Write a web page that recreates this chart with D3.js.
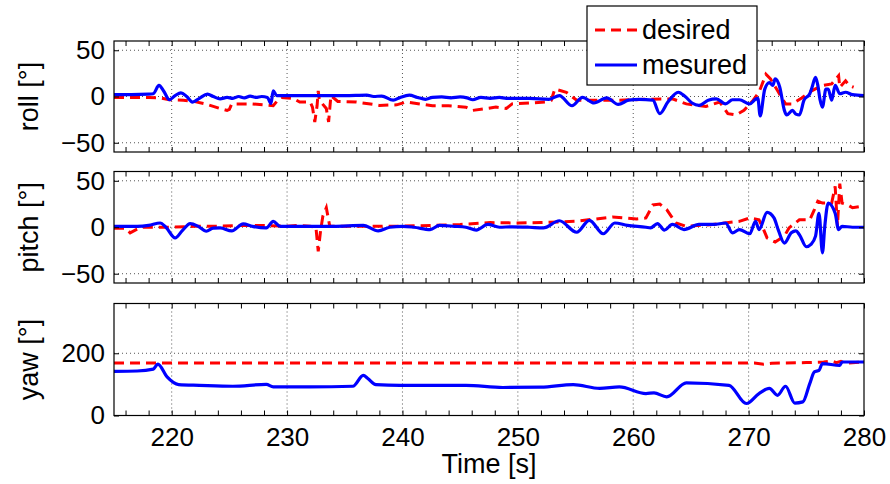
<!DOCTYPE html>
<html><head><meta charset="utf-8">
<script src="https://cdn.jsdelivr.net/npm/d3@7"></script>
<style>
body{margin:0;background:#fff;}
text{font-family:"Liberation Sans",Arial,Helvetica,sans-serif;fill:#000;}
</style></head><body>
<svg id="c" width="890" height="484"></svg>
<script>
// ---- data (time [s], angle [deg]) ----
const xTicks = [220,230,240,250,260,270,280];
const xMinorTicks = [216,218,220,222,224,226,228,230,232,234,236,238,240,242,244,246,248,250,252,254,256,258,260,262,264,266,268,270,272,274,276,278,280];
const angleTicks = [-50,0,50];
const yawTicks = [0,200];
const panelLabels = ["roll [°]","pitch [°]","yaw [°]"];
const legendLabels = ["desired","mesured"];

const rollDesired = [[215,-1],[218,-1],[219,-1.5],[219.8,-3.5],[221,-4],[221.8,-5],[222.9,-8],[224.2,-13],[224.8,-15],[225,-14],[225.2,-8],[227,-8],[228,-9],[228.8,-10],[229.2,-4],[229.5,-1],[230.5,-2],[231.1,-6],[232,-6],[232.2,-11.5],[232.4,-27.5],[232.6,-10],[232.7,6],[232.8,-4],[233.4,-13],[233.6,-27.5],[233.8,1],[234.4,-5.4],[236,-6],[237.7,-9],[238,-9.6],[239.5,-9],[240.3,-6],[241.5,-8],[242.6,-10],[244,-10],[245.5,-11.5],[246.1,-15],[248.1,-11.5],[249,-13],[249.5,-8],[251,-7],[252.4,-6],[252.9,-4],[253.2,8],[254.2,4.6],[255.1,-4],[258.8,-4],[261.1,-3],[263.4,-2.5],[264.6,-8],[266.3,-10.7],[267.5,-6],[268.2,-18.5],[268.9,-20],[269.6,-15],[270.4,-4],[270.9,4.6],[271.5,24],[271.9,19],[272.5,6.4],[273.2,-8],[273.8,-8],[274.6,-1.5],[275.5,6.4],[276.4,12],[277.2,13.6],[277.8,22.5],[277.9,10],[278.4,17],[278.7,12],[279.1,10]];
const rollMeasured = [[215,2],[216.5,2],[218,2.5],[218.4,3],[218.9,12],[219.3,6],[219.8,-3.5],[220.3,1],[220.8,4],[221.3,0],[221.8,-6],[222.4,-2],[223.1,2.5],[223.6,0],[224.2,-2.5],[224.8,-1],[225.3,-2],[225.8,0],[226.3,-1.5],[226.8,0.5],[227.3,-1],[227.8,0],[228.3,-1],[228.6,-7.5],[228.8,6],[229.1,1],[229.4,1],[231,1],[233,1],[235,1],[236.9,1.5],[237.5,0],[238.2,0.5],[239.2,-4],[239.8,-1],[240.6,1.5],[241.3,-1],[242,-3],[242.6,-1],[243.4,-0.5],[244.2,-1.5],[245,-0.5],[245.6,-1.5],[246.1,-3.5],[246.8,-1],[247.6,-2],[248.4,-1],[249,-2],[250,-2],[251,-2],[252.7,-3],[253.6,1],[254.7,-10],[255.6,-1],[256.6,-7],[257.7,-1.5],[258.7,-8.5],[259.6,-4],[260.5,-3],[261.7,-4],[262.3,-18.5],[263,-6],[263.9,4.6],[264.5,0],[265.1,-7],[265.7,-9.6],[266.5,-4],[267.2,-2.5],[268,-8],[268.6,-3.5],[269.2,-3.5],[270.1,-8],[270.6,-3],[270.8,-2],[271,-21],[271.4,8],[271.8,15],[272.1,12],[272.3,19],[272.7,10],[273.1,-15],[273.3,-20],[273.8,-15],[274.1,-19],[274.4,-20],[274.8,-4],[275.3,3],[275.5,10],[275.8,20.7],[276,12],[276.2,-4],[276.4,-11.5],[276.7,8],[276.9,8],[277.2,-4],[277.5,12],[277.9,3],[278.4,4.6],[279,2],[280,1]];

const pitchDesired = [[215,-1],[216,-1],[216.4,-6],[217,-2],[217.5,0],[220,0],[222,1],[224,1],[226,2],[228,2],[230,1],[231,2],[232,1],[232.5,0],[232.7,-26],[232.9,-4],[233.1,12],[233.4,21],[233.7,1],[236,1],[238.9,1],[242.6,2],[245,3],[247.6,5],[250,4.6],[252,5],[255,6.4],[258.2,11],[260.3,9],[261.1,10],[261.7,24],[262.3,25],[262.9,19],[263.7,4.6],[264.6,1],[266.9,3],[269.2,6.4],[270.1,10],[270.9,8],[271.3,-2.5],[271.6,-11.5],[272.3,-16],[273.1,-9.6],[273.5,-0.7],[274.4,8],[275.3,8],[275.7,19],[276,28],[276.4,26],[277.2,26],[277.5,44],[277.7,1],[277.9,47],[278.1,26],[278.6,24],[279,21],[280,23]];
const pitchMeasured = [[215,1],[217,1],[218,2],[219,4.6],[219.5,0],[220.3,-11.5],[220.9,-4],[221.6,4],[222.3,1],[223,-4.3],[223.6,-1],[224.2,-0.7],[225.2,-4],[226.2,3.6],[227,1],[228.2,-0.7],[228.8,6.4],[229.4,1],[232,1],[234,1],[236.6,2],[237.9,-4],[238.9,0],[240,1],[241,0],[242.4,-2.5],[243.2,2],[244.5,1],[245.5,0],[246.4,-3],[247.4,3],[248.4,0],[249.5,0.5],[251,0],[252.2,-0.7],[253.6,7],[255.1,-5.4],[256.2,7.5],[257.4,-7],[258.4,4.6],[259.5,2],[261.1,0],[261.5,-0.7],[262.1,4],[262.7,-3],[263.4,3],[264.4,-2.5],[265.7,3],[267,3],[268,4.6],[268.6,-6],[269.2,-2.5],[270.1,-7],[270.6,6.4],[270.9,-2.5],[271.6,16],[272.2,10],[272.6,-4],[273.1,-17],[273.7,-6],[274.1,-4],[274.4,-8],[275,-21],[275.4,-18.5],[275.8,-9.6],[276.1,15],[276.4,-27.5],[276.6,1],[276.9,26],[277.5,15],[277.8,-2.5],[278.1,1],[279,0],[280,0]];

const yawDesired = [[215,169],[230,169],[250,169],[265,169],[270.5,169],[271.3,165],[272,168],[275,170],[276.5,172],[277.2,175],[277.6,170],[278,174],[278.4,168],[280,172]];
const yawMeasured = [[215,142],[217,143],[218.4,149],[218.8,165],[219.6,124],[220.6,99.5],[222.4,97],[225.3,94],[228.2,100],[228.8,92],[232,92],[235.7,94],[236.6,129],[237,119],[237.7,99.5],[239.8,97],[245.5,97],[248.7,90],[252,91],[254.8,99.5],[257.1,87],[258.8,92],[261.1,70.6],[261.8,72.7],[262.9,60],[264.6,105],[268.3,97],[269.8,38.5],[270.9,70.6],[271.8,87],[272.5,65],[273.2,94],[274,40],[274.7,43.7],[275.3,102.7],[275.7,140],[276.1,145],[276.4,167],[277.9,161],[278.1,172],[280,172]];

// ---- layout ----
const svg = d3.select("#c");
const L = 114, R = 864;
const x = d3.scaleLinear().domain([215,280]).range([L,R]);
const panels = [
  {top:41, bottom:152, domain:[-60,60], ticks:angleTicks, label:panelLabels[0], des:rollDesired, mes:rollMeasured},
  {top:171.5, bottom:283, domain:[-60,60], ticks:angleTicks, label:panelLabels[1], des:pitchDesired, mes:pitchMeasured},
  {top:303.5, bottom:415.5, domain:[0,360], ticks:yawTicks, label:panelLabels[2], des:yawDesired, mes:yawMeasured}
];
const fmt = v => v < 0 ? "\u2212" + Math.abs(v) : String(v);

panels.forEach((p,i) => {
  const y = d3.scaleLinear().domain(p.domain).range([p.bottom,p.top]);
  const g = svg.append("g");
  // grid
  g.selectAll(".vg").data(xTicks.filter(t=>t>215&&t<280)).join("line")
    .attr("x1",d=>x(d)).attr("x2",d=>x(d)).attr("y1",p.top).attr("y2",p.bottom)
    .attr("stroke","#555").attr("stroke-width",1).attr("stroke-dasharray","1,3");
  g.selectAll(".hg").data(p.ticks.filter(t=>y(t)>p.top+1&&y(t)<p.bottom-1)).join("line")
    .attr("x1",L).attr("x2",R).attr("y1",d=>y(d)).attr("y2",d=>y(d))
    .attr("stroke","#555").attr("stroke-width",1).attr("stroke-dasharray","1,3");
  // clip
  const cid = "clip"+i;
  svg.append("clipPath").attr("id",cid).append("rect")
    .attr("x",L).attr("y",p.top).attr("width",R-L).attr("height",p.bottom-p.top);
  const lineD = d3.line().x(d=>x(d[0])).y(d=>y(d[1]));
  const lineM = d3.line().x(d=>x(d[0])).y(d=>y(d[1])).curve(d3.curveMonotoneX);
  const lg = g.append("g").attr("clip-path",`url(#${cid})`);
  lg.append("path").datum(p.des).attr("d",lineD).attr("fill","none")
    .attr("stroke","#ff0000").attr("stroke-width",3).attr("stroke-dasharray","10,6");
  lg.append("path").datum(p.mes).attr("d",lineM).attr("fill","none")
    .attr("stroke","#0000ff").attr("stroke-width",3.2).attr("stroke-linejoin","round");
  // axes ticks (inward)
  const axB = d3.axisBottom(x).tickValues(xMinorTicks).tickSize(-5).tickFormat("");
  const axT = d3.axisTop(x).tickValues(xMinorTicks).tickSize(-5).tickFormat("");
  g.append("g").attr("transform",`translate(0,${p.bottom})`).call(axB).call(s=>s.select(".domain").remove());
  g.append("g").attr("transform",`translate(0,${p.top})`).call(axT).call(s=>s.select(".domain").remove());
  const axL = d3.axisLeft(y).tickValues(p.ticks).tickSize(-5).tickPadding(9).tickFormat(fmt);
  const axR = d3.axisRight(y).tickValues(p.ticks).tickSize(-5).tickFormat("");
  g.append("g").attr("transform",`translate(${L},0)`).call(axL).call(s=>s.select(".domain").remove())
    .call(s=>s.selectAll("text").attr("font-size",26).attr("font-family","Liberation Sans, Arial, sans-serif"));
  g.append("g").attr("transform",`translate(${R},0)`).call(axR).call(s=>s.select(".domain").remove());
  g.selectAll(".tick line").attr("stroke","#000");
  // frame
  g.append("rect").attr("x",L).attr("y",p.top).attr("width",R-L).attr("height",p.bottom-p.top)
    .attr("fill","none").attr("stroke","#000").attr("stroke-width",1.2);
  // y label
  g.append("text").attr("transform",`translate(38,${(p.top+p.bottom)/2}) rotate(-90)`)
    .attr("text-anchor","middle").attr("font-size",27).text(p.label);
  if (i === 2) {
    const axX = d3.axisBottom(x).tickValues(xTicks).tickSize(0).tickPadding(12);
    g.append("g").attr("transform",`translate(0,${p.bottom})`).call(axX)
      .call(s=>s.select(".domain").remove())
      .call(s=>s.selectAll("text").attr("font-size",26).attr("font-family","Liberation Sans, Arial, sans-serif"));
    svg.append("text").attr("x",(L+R)/2).attr("y",473).attr("text-anchor","middle")
      .attr("font-size",27).text("Time [s]");
  }
});

// legend
const lgd = svg.append("g");
lgd.append("rect").attr("x",587).attr("y",6).attr("width",170).attr("height",79)
  .attr("fill","#fff").attr("stroke","#000").attr("stroke-width",1.2);
const legStyles = [{c:"#ff0000",dash:"10,6"},{c:"#0000ff",dash:null}];
legendLabels.forEach((t,k) => {
  const yy = 30 + k*35;
  lgd.append("line").attr("x1",595).attr("x2",637).attr("y1",yy).attr("y2",yy)
    .attr("stroke",legStyles[k].c).attr("stroke-width",3)
    .attr("stroke-dasharray",legStyles[k].dash);
  lgd.append("text").attr("x",642).attr("y",yy+9).attr("font-size",27).text(t);
});
</script>
</body></html>
